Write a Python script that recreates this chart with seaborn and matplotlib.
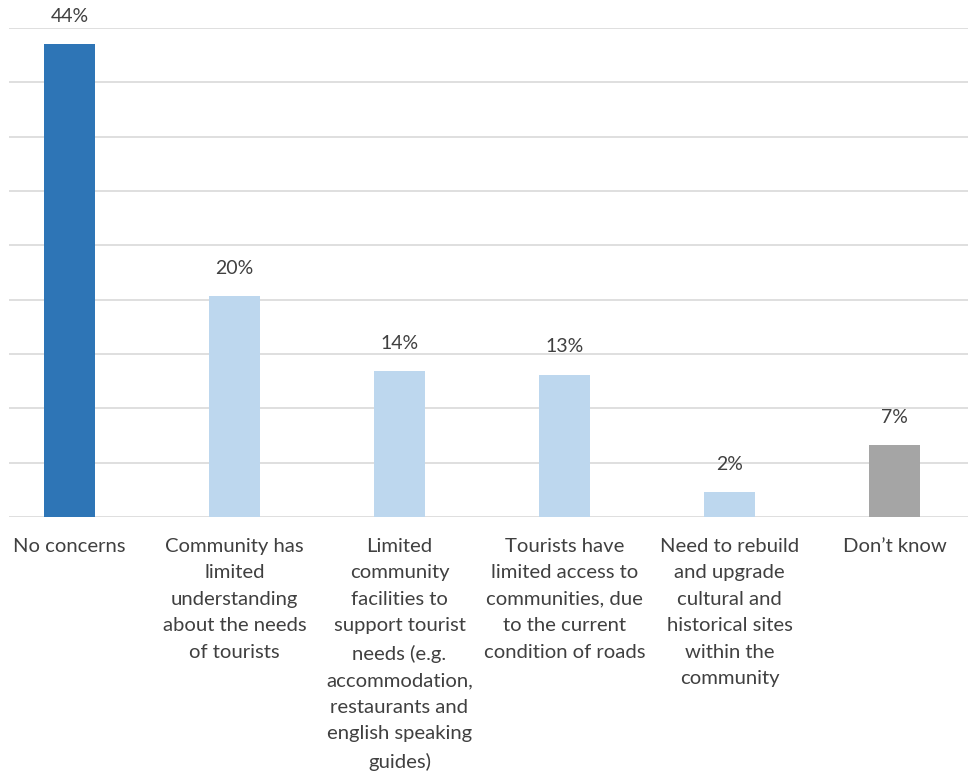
import matplotlib
matplotlib.use("Agg")
import matplotlib.pyplot as plt
import seaborn as sns
import pandas as pd

categories = [
    "No concerns",
    "Community has\nlimited\nunderstanding\nabout the needs\nof tourists",
    "Limited\ncommunity\nfacilities to\nsupport tourist\nneeds (e.g.\naccommodation,\nrestaurants and\nenglish speaking\nguides)",
    "Tourists have\nlimited access to\ncommunities, due\nto the current\ncondition of roads",
    "Need to rebuild\nand upgrade\ncultural and\nhistorical sites\nwithin the\ncommunity",
    "Don\u2019t know",
]
values = [43.5, 20.3, 13.4, 13.1, 2.3, 6.6]
value_labels = ["44%", "20%", "14%", "13%", "2%", "7%"]
colors = ["#2E75B6", "#BDD7EE", "#BDD7EE", "#BDD7EE", "#BDD7EE", "#A5A5A5"]

sns.set_theme(style="white")
plt.rcParams["font.family"] = ["Lato", "DejaVu Sans"]

df = pd.DataFrame({"cat": categories, "val": values})

W, H = 968, 776
fig = plt.figure(figsize=(W / 100, H / 100), dpi=100)
ax_left, ax_right, ax_top, ax_bot = 9, 968, 28, 517
ax = fig.add_axes([ax_left / W, 1 - ax_bot / H, (ax_right - ax_left) / W, (ax_bot - ax_top) / H])

sns.barplot(data=df, x="cat", y="val", hue="cat", palette=colors, legend=False,
            width=0.31, ax=ax, saturation=1, linewidth=0)

ax.set_xlim(-(69.5 - ax_left) / 165, (ax_right - 69.5) / 165)
ax.set_ylim(0, 45)
ax.set_yticks(range(0, 46, 5))
ax.yaxis.grid(True, color="#D9D9D9", linewidth=1.2)
ax.set_axisbelow(True)
ax.tick_params(axis="y", left=False, labelleft=False)
ax.tick_params(axis="x", bottom=False, pad=9, labelsize=14.6, labelcolor="#404040")
for s in ax.spines.values():
    s.set_visible(False)
ax.set_xlabel("")
ax.set_ylabel("")
for t in ax.get_xticklabels():
    t.set_linespacing(1.68)

for i, (v, lab) in enumerate(zip(values, value_labels)):
    ax.annotate(lab, (i, v), xytext=(0, 14), textcoords="offset points",
                ha="center", va="bottom", fontsize=14, color="#404040")

fig.savefig("out.png", dpi=100)
